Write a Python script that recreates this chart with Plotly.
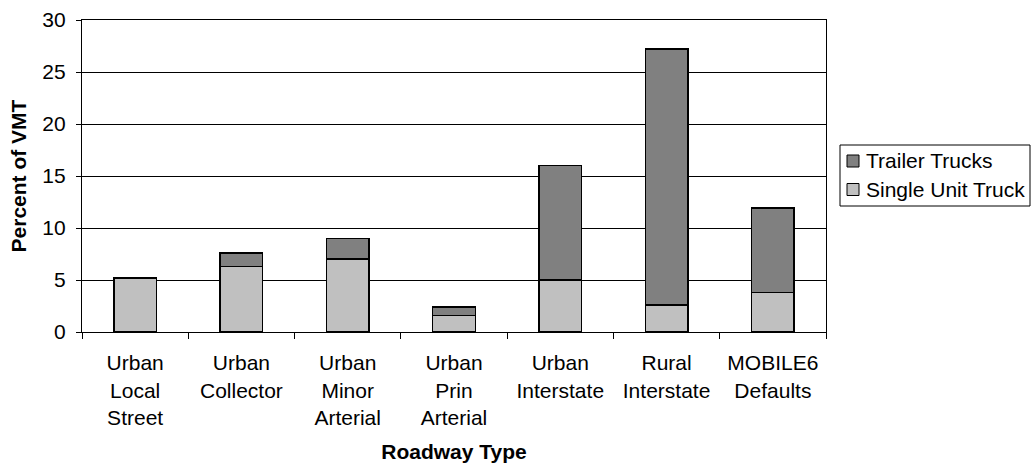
import plotly.graph_objects as go

categories = ["Urban<br>Local<br>Street", "Urban<br>Collector", "Urban<br>Minor<br>Arterial",
              "Urban<br>Prin<br>Arterial", "Urban<br>Interstate", "Rural<br>Interstate",
              "MOBILE6<br>Defaults"]
single_unit = [5.2, 6.3, 7.0, 1.6, 5.0, 2.6, 3.8]
trailer = [0.0, 1.3, 2.0, 0.8, 11.0, 24.6, 8.1]
series_names = ["Single Unit Truck", "Trailer Trucks"]
series_colors = ["#C0C0C0", "#808080"]
y_ticks = [0, 5, 10, 15, 20, 25, 30]

FONT = "Liberation Sans, Arial, sans-serif"
FS = 21
W, H = 1031, 464
ML, MR, MT, MB = 82, 205, 20, 132
PW, PH = W - ML - MR, H - MT - MB


def px(x):
    return (x - ML) / PW


def py(y):
    return (H - MB - y) / PH


fig = go.Figure()
for name, vals, col in zip(series_names, [single_unit, trailer], series_colors):
    fig.add_trace(go.Bar(x=categories, y=vals, name=name,
                         marker=dict(color=col, line=dict(color="black", width=1.5))))

# custom legend (Trailer Trucks on top)
shapes = [dict(type="rect", xref="paper", yref="paper",
               x0=px(840), x1=px(1030), y0=py(206), y1=py(145),
               line=dict(color="black", width=1), fillcolor="white", layer="above")]
annotations = []
legend_rows = [(series_names[1], series_colors[1], 161), (series_names[0], series_colors[0], 189.5)]
for name, col, cy in legend_rows:
    shapes.append(dict(type="rect", xref="paper", yref="paper",
                       x0=px(847), x1=px(859), y0=py(cy + 6), y1=py(cy - 6),
                       line=dict(color="black", width=1), fillcolor=col, layer="above"))
    annotations.append(dict(text=name, xref="paper", yref="paper", x=px(864), y=py(cy),
                            xanchor="left", yanchor="middle", showarrow=False,
                            font=dict(size=FS, family=FONT, color="black")))

fig.update_layout(
    width=W, height=H,
    barmode="stack", bargap=0.6,
    plot_bgcolor="white", paper_bgcolor="white",
    margin=dict(l=ML, r=MR, t=MT, b=MB, autoexpand=False),
    font=dict(family=FONT, size=FS, color="black"),
    showlegend=False,
    shapes=shapes,
    annotations=annotations,
)
fig.update_xaxes(
    showline=True, linecolor="black", linewidth=1.3, mirror=True,
    ticks="outside", tickson="boundaries", ticklen=6, tickcolor="black",
    ticklabelstandoff=12,
    showgrid=False,
    title=dict(text="<b>Roadway Type</b>", font=dict(size=FS), standoff=16),
    tickfont=dict(size=FS),
)
fig.update_yaxes(
    range=[0, 30], tickvals=y_ticks,
    showline=True, linecolor="black", linewidth=1.3, mirror=True,
    ticks="outside", ticklen=5, tickcolor="black",
    ticklabelstandoff=6,
    showgrid=True, gridcolor="black", gridwidth=1,
    zeroline=False,
    title=dict(text="<b>Percent of VMT</b>", font=dict(size=FS), standoff=9),
    tickfont=dict(size=FS),
)

fig.write_html("out.html", config={"displayModeBar": False},
               post_script="document.body.style.margin='0';")
